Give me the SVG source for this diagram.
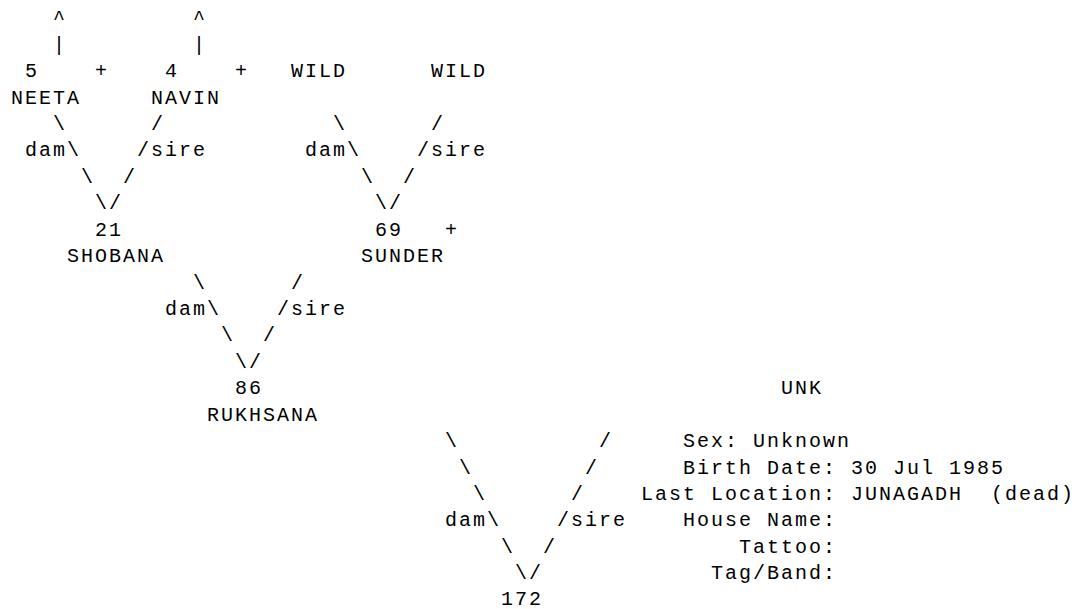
<svg xmlns="http://www.w3.org/2000/svg" width="1077" height="609" viewBox="0 0 1077 609">
<style>
text { font-family: "Liberation Mono", "Courier New", monospace; font-size: 20px; letter-spacing: 2px; fill: #000; white-space: pre; }
</style>
<rect x="0" y="0" width="1077" height="609" fill="#fff"/>
<g transform="translate(1,0)">
<g id="connectors">
  <text x="52" y="24.2">^</text><text x="192" y="24.2">^</text>
  <text x="52" y="50.6">|</text><text x="192" y="50.6">|</text>
  <text x="52" y="129.9">\</text><text x="150" y="129.9">/</text>
  <text x="332" y="129.9">\</text><text x="430" y="129.9">/</text>
  <text x="24" y="156.4">dam\</text><text x="136" y="156.4">/sire</text>
  <text x="304" y="156.4">dam\</text><text x="416" y="156.4">/sire</text>
  <text x="80" y="182.8">\</text><text x="122" y="182.8">/</text>
  <text x="360" y="182.8">\</text><text x="402" y="182.8">/</text>
  <text x="94" y="209.2">\/</text><text x="374" y="209.2">\/</text>
  <text x="192" y="288.5">\</text><text x="290" y="288.5">/</text>
  <text x="164" y="314.9">dam\</text><text x="276" y="314.9">/sire</text>
  <text x="220" y="341.4">\</text><text x="262" y="341.4">/</text>
  <text x="234" y="367.8">\/</text>
  <text x="444" y="447.1">\</text><text x="598" y="447.1">/</text>
  <text x="458" y="473.5">\</text><text x="584" y="473.5">/</text>
  <text x="472" y="499.9">\</text><text x="570" y="499.9">/</text>
  <text x="444" y="526.4">dam\</text><text x="556" y="526.4">/sire</text>
  <text x="500" y="552.8">\</text><text x="542" y="552.8">/</text>
  <text x="514" y="579.2">\/</text>
</g>
<g id="node-5-neeta">
  <text x="24" y="77.1">5</text><text x="94" y="77.1">+</text>
  <text x="10" y="103.5">NEETA</text>
</g>
<g id="node-4-navin">
  <text x="164" y="77.1">4</text><text x="234" y="77.1">+</text>
  <text x="150" y="103.5">NAVIN</text>
</g>
<g id="node-wild-1">
  <text x="290" y="77.1">WILD</text>
</g>
<g id="node-wild-2">
  <text x="430" y="77.1">WILD</text>
</g>
<g id="node-21-shobana">
  <text x="94" y="235.6">21</text>
  <text x="66" y="262.1">SHOBANA</text>
</g>
<g id="node-69-sunder">
  <text x="374" y="235.6">69</text><text x="444" y="235.6">+</text>
  <text x="360" y="262.1">SUNDER</text>
</g>
<g id="node-86-rukhsana">
  <text x="234" y="394.2">86</text>
  <text x="206" y="420.7">RUKHSANA</text>
</g>
<g id="node-unk">
  <text x="780" y="394.2">UNK</text>
</g>
<g id="node-172">
  <text x="500" y="604.5">172</text>
  <text x="682" y="447.1">Sex: Unknown</text>
  <text x="682" y="473.5">Birth Date: 30 Jul 1985</text>
  <text x="640" y="499.9">Last Location: JUNAGADH  (dead)</text>
  <text x="682" y="526.4">House Name:</text>
  <text x="738" y="552.8">Tattoo:</text>
  <text x="710" y="579.2">Tag/Band:</text>
</g>
</g>
</svg>
